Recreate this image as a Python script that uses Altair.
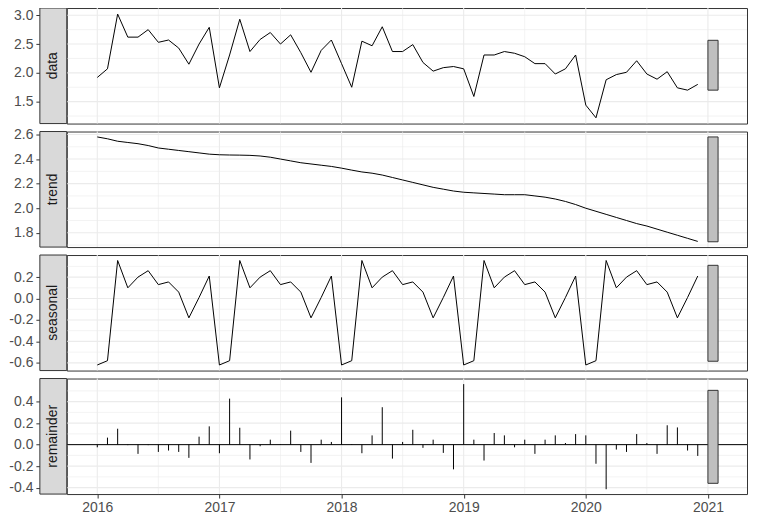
import altair as alt
import pandas as pd

# ---------------- data ----------------
years = [2016, 2017, 2018, 2019, 2020]
month_numbers = list(range(1, 13))

data_vals = [
    1.92, 2.07, 3.02, 2.62, 2.62, 2.75, 2.53, 2.57, 2.43, 2.15, 2.50, 2.79,
    1.74, 2.31, 2.93, 2.37, 2.58, 2.70, 2.50, 2.66, 2.35, 2.01, 2.39, 2.57,
    2.16, 1.75, 2.55, 2.47, 2.80, 2.37, 2.37, 2.49, 2.18, 2.03, 2.09, 2.11,
    2.07, 1.59, 2.31, 2.31, 2.37, 2.34, 2.28, 2.16, 2.16, 1.98, 2.07, 2.31,
    1.44, 1.22, 1.88, 1.97, 2.01, 2.21, 1.98, 1.89, 2.02, 1.74, 1.70, 1.80,
]
trend_vals = [
    2.580, 2.565, 2.545, 2.535, 2.525, 2.510, 2.490, 2.480, 2.470, 2.460, 2.450, 2.440,
    2.435, 2.433, 2.432, 2.430, 2.425, 2.415, 2.400, 2.385, 2.370, 2.360, 2.350, 2.340,
    2.326, 2.310, 2.295, 2.285, 2.270, 2.250, 2.230, 2.210, 2.190, 2.170, 2.155, 2.140,
    2.130, 2.125, 2.120, 2.115, 2.110, 2.110, 2.110, 2.100, 2.090, 2.075, 2.055, 2.030,
    2.000, 1.975, 1.950, 1.925, 1.900, 1.875, 1.855, 1.830, 1.805, 1.780, 1.755, 1.730,
]
seasonal_vals = [
    -0.62, -0.58, 0.355, 0.10, 0.20, 0.26, 0.13, 0.155, 0.06, -0.18, 0.01, 0.21,
    -0.62, -0.58, 0.355, 0.10, 0.20, 0.26, 0.13, 0.155, 0.06, -0.18, 0.01, 0.21,
    -0.62, -0.58, 0.355, 0.10, 0.20, 0.26, 0.13, 0.155, 0.06, -0.18, 0.01, 0.21,
    -0.62, -0.58, 0.355, 0.10, 0.20, 0.26, 0.13, 0.155, 0.06, -0.18, 0.01, 0.21,
    -0.62, -0.58, 0.355, 0.10, 0.20, 0.26, 0.13, 0.155, 0.06, -0.18, 0.01, 0.21,
]
remainder_vals = [
    -0.025, 0.065, 0.148, -0.005, -0.086, -0.005, -0.068, -0.055, -0.068, -0.123, 0.074, 0.170,
    -0.080, 0.428, 0.157, -0.138, -0.015, 0.046, 0.003, 0.130, -0.068, -0.170, 0.046, 0.025,
    0.440, 0.005, -0.080, 0.086, 0.348, -0.130, 0.025, 0.138, -0.030, 0.046, -0.077, -0.230,
    0.563, 0.046, -0.148, 0.108, 0.086, -0.025, 0.046, -0.086, 0.046, 0.086, 0.015, 0.098,
    0.086, -0.178, -0.415, -0.046, -0.068, 0.098, 0.015, -0.086, 0.180, 0.160, -0.055, -0.105,
]

panel_names = ["data", "trend", "seasonal", "remainder"]
range_bars = {
    "data": [1.70, 2.565],
    "trend": [1.727, 2.58],
    "seasonal": [-0.585, 0.31],
    "remainder": [-0.36, 0.505],
}
bar_x = [2021.0, 2021.083]
y_majors = {
    "data": [1.5, 2.0, 2.5, 3.0],
    "trend": [1.8, 2.0, 2.2, 2.4, 2.6],
    "seasonal": [-0.6, -0.4, -0.2, 0.0, 0.2],
    "remainder": [-0.4, -0.2, 0.0, 0.2, 0.4],
}
y_minors = {
    "data": [1.25, 1.75, 2.25, 2.75],
    "trend": [1.7, 1.9, 2.1, 2.3, 2.5],
    "seasonal": [-0.5, -0.3, -0.1, 0.1, 0.3],
    "remainder": [-0.3, -0.1, 0.1, 0.3, 0.5],
}
y_domains = {
    "data": [1.12, 3.125],
    "trend": [1.684, 2.624],
    "seasonal": [-0.672, 0.406],
    "remainder": [-0.46, 0.615],
}
x_majors = [2016, 2017, 2018, 2019, 2020, 2021]
x_minors = [2016.5, 2017.5, 2018.5, 2019.5, 2020.5]
x_domain = [2015.75, 2021.32]

series = {
    "data": data_vals,
    "trend": trend_vals,
    "seasonal": seasonal_vals,
    "remainder": remainder_vals,
}

# time index (decimal years, like an R ts object)
t_index = [y + (m - 1) / 12 for y in years for m in month_numbers]

# ---------------- layout / style ----------------
W, H = 683, 116
STRIP = 27
FONT = "Liberation Sans"
GRID = "#ebebeb"
DARK = "#333333"
LABEL = "#4d4d4d"

label_expr = "replace(format(datum.value, '.1f'), '\u2212', '-')"


def panel(name, bottom):
    df = pd.DataFrame({"t": t_index, "v": series[name]})
    yscale = alt.Scale(domain=y_domains[name], nice=False, zero=False)
    xscale = alt.Scale(domain=x_domain, nice=False, zero=False)
    yaxis = alt.Axis(values=y_majors[name], offset=STRIP, grid=False, domain=False,
                     tickColor=DARK, tickSize=4, tickWidth=1, labelColor=LABEL,
                     labelFontSize=14, labelFont=FONT, labelPadding=3, title=None,
                     labelOverlap=False, labelExpr=label_expr)
    if bottom:
        xaxis = alt.Axis(values=x_majors, format="d", grid=False, domain=False,
                         tickColor=DARK, tickSize=4, tickWidth=1, labelColor=LABEL,
                         labelFontSize=14, labelFont=FONT, labelPadding=3, title=None,
                         labelOverlap=False)
    else:
        xaxis = None

    def X(field):
        return alt.X(field, type="quantitative", scale=xscale, axis=xaxis)

    def Y(field):
        return alt.Y(field, type="quantitative", scale=yscale, axis=yaxis)

    gy_major = alt.Chart(pd.DataFrame({"g": y_majors[name]})).mark_rule(
        color=GRID, strokeWidth=1.1).encode(y=Y("g"))
    gy_minor = alt.Chart(pd.DataFrame({"g": y_minors[name]})).mark_rule(
        color=GRID, strokeWidth=0.6).encode(y=Y("g"))
    gx_major = alt.Chart(pd.DataFrame({"g": x_majors})).mark_rule(
        color=GRID, strokeWidth=1.1).encode(x=X("g"))
    gx_minor = alt.Chart(pd.DataFrame({"g": x_minors})).mark_rule(
        color=GRID, strokeWidth=0.6).encode(x=X("g"))

    one = pd.DataFrame({"k": [0]})
    strip = alt.Chart(one).mark_rect(fill="#d9d9d9", stroke=DARK, strokeWidth=1).encode(
        x=alt.value(-STRIP), x2=alt.value(0), y=alt.value(0), y2=alt.value(H))
    strip_text = alt.Chart(one).mark_text(
        angle=270, font=FONT, fontSize=14, color="#1a1a1a", baseline="middle",
        align="center").encode(x=alt.value(-STRIP / 2), y=alt.value(H / 2),
                               text=alt.value(name))

    if name == "remainder":
        zdf = pd.DataFrame({"z": [0.0]})
        main = alt.Chart(df).mark_rule(color="black", strokeWidth=1).encode(
            x=X("t"), y=Y("v"), y2=alt.datum(0))
        zero = alt.Chart(zdf).mark_rule(color="black", strokeWidth=1).encode(
            y=Y("z"))
        marks = [main, zero]
    else:
        main = alt.Chart(df).mark_line(color="black", strokeWidth=1).encode(
            x=X("t"), y=Y("v"))
        marks = [main]

    bdf = pd.DataFrame({"x1": [bar_x[0]], "x2": [bar_x[1]],
                        "lo": [range_bars[name][0]], "hi": [range_bars[name][1]]})
    bar = alt.Chart(bdf).mark_rect(fill="#bfbfbf", stroke=DARK, strokeWidth=1).encode(
        x=X("x1"), x2="x2", y=Y("lo"), y2="hi")

    return alt.layer(gy_minor, gy_major, gx_minor, gx_major, *marks, bar,
                     strip, strip_text).properties(width=W, height=H)


chart = alt.vconcat(
    *[panel(n, n == "remainder") for n in panel_names], spacing=8, bounds="flush"
).properties(
    padding={"left": 0, "top": -3, "right": 0, "bottom": 0},
    background="white",
).configure_view(stroke=DARK, strokeWidth=1)

chart.save("out.html", embed_options={"renderer": "svg", "actions": False})
